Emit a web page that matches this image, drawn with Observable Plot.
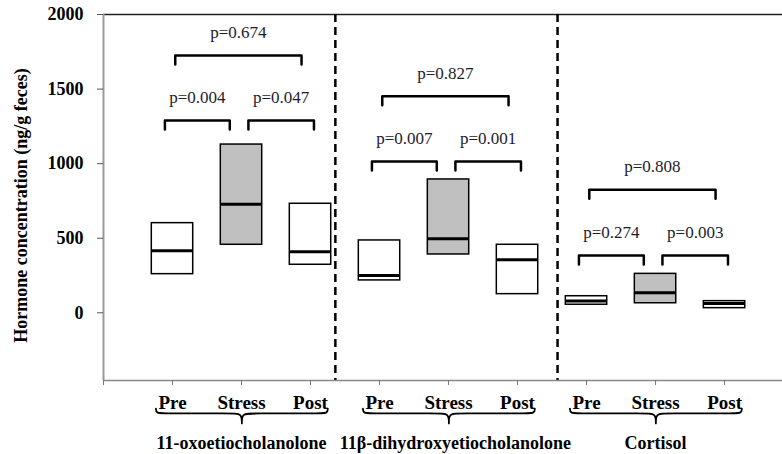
<!DOCTYPE html>
<html><head><meta charset="utf-8">
<script src="https://cdn.jsdelivr.net/npm/d3@7"></script>
<script src="https://cdn.jsdelivr.net/npm/@observablehq/plot@0.6"></script>
<style>
body{margin:0;background:#fff;}
#chart svg{font-family:"Liberation Serif","Times New Roman",serif;color:#000;}
</style></head><body><div id="chart"></div>
<script>
// ---- data ----
const groups = ["11-oxoetiocholanolone", "11β-dihydroxyetiocholanolone", "Cortisol"];
const conditions = ["Pre", "Stress", "Post"];
const boxLower  = [[259, 456, 322], [217, 391, 125], [54, 64, 31]];
const boxMedian = [[416, 728, 409], [250, 496, 355], [79, 134, 62]];
const boxUpper  = [[601, 1128, 731], [485, 894, 456], [111, 261, 78]];
const pPreStress  = ["p=0.004", "p=0.007", "p=0.274"];
const pStressPost = ["p=0.047", "p=0.001", "p=0.003"];
const pPrePost    = ["p=0.674", "p=0.827", "p=0.808"];
const pairLevel   = [1289, 1014, 384];   // height of Pre–Stress / Stress–Post brackets
const overallLevel = [1725, 1452, 825];  // height of Pre–Post bracket
const yTicks = [0, 500, 1000, 1500, 2000];
const yTitle = "Hormone concentration (ng/g feces)";

// ---- derived tables ----
const pos = (g, c) => g * 3 + c + 1;
const boxes = [];
groups.forEach((grp, g) => conditions.forEach((cond, c) => boxes.push({
  group: grp, condition: cond, pos: pos(g, c),
  lo: boxLower[g][c], med: boxMedian[g][c], hi: boxUpper[g][c], stress: c === 1
})));

const HW = 0.3;       // half box width (x units)
const DROP = 60;      // bracket leg length (y units)
const brackets = [];
groups.forEach((grp, g) => {
  brackets.push({id: g + "a", x1: pos(g, 0) - 0.11, x2: pos(g, 1) - 0.17, y: pairLevel[g], p: pPreStress[g]});
  brackets.push({id: g + "b", x1: pos(g, 1) + 0.10, x2: pos(g, 2) + 0.05, y: pairLevel[g], p: pStressPost[g]});
  brackets.push({id: g + "c", x1: pos(g, 0) + 0.04, x2: pos(g, 2) - 0.13, y: overallLevel[g], p: pPrePost[g]});
});
const bracketPts = brackets.flatMap(b => [
  {id: b.id, x: b.x1, y: b.y - DROP}, {id: b.id, x: b.x1, y: b.y},
  {id: b.id, x: b.x2, y: b.y}, {id: b.id, x: b.x2, y: b.y - DROP}
]);

// curly braces under each group (drawn below the axis through the y scale)
const BT = -642, BM = -675, BTIP = -742;
const bracePts = [];
groups.forEach((grp, g) => {
  const x0 = pos(g, 0) - 0.24, x1 = pos(g, 2) + 0.25, xm = (x0 + x1) / 2;
  [[x0, BT], [x0, BM], [x0 + 0.15, BM], [xm - 0.15, BM], [xm, BM], [xm, BTIP], [xm, BTIP], [xm, BTIP],
   [xm, BM], [xm + 0.15, BM], [x1 - 0.15, BM], [x1, BM], [x1, BT]]
    .forEach(([x, y]) => bracePts.push({g, x, y}));
});
const groupLabels = groups.map((grp, g) => ({group: grp, x: pos(g, 1) + (g === 1 ? 0.1 : 0)}));

const chart = Plot.plot({
  width: 782, height: 454,
  marginLeft: 103, marginRight: 0, marginTop: 14, marginBottom: 74,
  x: {type: "linear", domain: [0, 9.84]},
  y: {domain: [-454, 2000]},
  marks: [
    Plot.ruleY([2000], {stroke: "#222", strokeWidth: 1.5}),
    Plot.ruleX([3.36, 6.58], {stroke: "#000", strokeWidth: 2.5, strokeDasharray: "8,5"}),
    Plot.rect(boxes, {x1: d => d.pos - HW, x2: d => d.pos + HW, y1: "lo", y2: "hi",
      fill: d => d.stress ? "#c0c0c0" : "#fff", stroke: "#000", strokeWidth: 1.5}),
    Plot.ruleY(boxes, {y: "med", x1: d => d.pos - HW, x2: d => d.pos + HW, stroke: "#000", strokeWidth: 3}),
    Plot.line(bracketPts, {x: "x", y: "y", z: "id", stroke: "#000", strokeWidth: 2.5}),
    Plot.text(brackets, {x: d => (d.x1 + d.x2) / 2, y: "y", text: "p", dy: -23, fontSize: 17, fill: "#1c1c2c"}),
    Plot.ruleX([0], {stroke: "#999", strokeWidth: 2}),
    Plot.ruleY([-454], {stroke: "#888", strokeWidth: 1.5}),
    Plot.axisY(yTicks, {tickSize: 6, tickPadding: 14, fontSize: 18, fontWeight: "bold", label: null,
      stroke: "#555", tickFormat: d => String(d)}),
    Plot.axisX(d3.range(0, 10), {tickSize: 5, tickFormat: () => "", label: null, stroke: "#777"}),
    Plot.text(boxes, {x: "pos", text: "condition", frameAnchor: "bottom", lineAnchor: "middle", dy: 22,
      fontSize: 19, fontWeight: "bold"}),
    Plot.line(bracePts, {x: "x", y: "y", z: "g", curve: "basis", stroke: "#000", strokeWidth: 1.8}),
    Plot.text(groupLabels, {x: "x", text: "group", frameAnchor: "bottom", lineAnchor: "middle", dy: 63,
      fontSize: 18, fontWeight: "bold"}),
    Plot.text([yTitle], {frameAnchor: "left", textAnchor: "middle", lineAnchor: "middle", rotate: -90,
      dx: -82, dy: 8, fontSize: 18, fontWeight: "bold"})
  ]
});
document.getElementById("chart").appendChild(chart);
</script></body></html>
